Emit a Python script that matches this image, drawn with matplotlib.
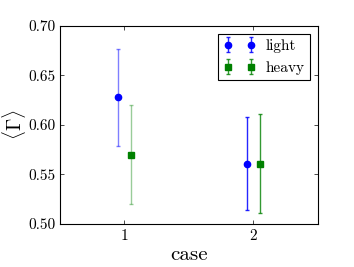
import matplotlib
matplotlib.use("Agg")
import matplotlib.pyplot as plt
from matplotlib.colors import to_rgba

plt.rcParams['font.family'] = 'cmr10'
plt.rcParams['mathtext.fontset'] = 'cm'
plt.rcParams['axes.formatter.use_mathtext'] = True

cases = [1, 2]
light_vals = [0.628, 0.561]
light_errs = [0.049, 0.047]
heavy_vals = [0.570, 0.561]
heavy_errs = [0.050, 0.050]
err_alpha = [0.5, 0.85]
heavy_err_alpha = [0.4, 0.8]

fig = plt.figure(figsize=(3.54, 2.67), dpi=100)
ax = fig.add_axes([0.169, 0.161, 0.729, 0.742])

for i, c in enumerate(cases):
    ax.errorbar(c - 0.05, light_vals[i], yerr=light_errs[i], fmt='o', color='b',
                ecolor=to_rgba('b', err_alpha[i]), markersize=4.5, capsize=1.5,
                elinewidth=1, capthick=1, mec='b',
                label='light' if i == 1 else None)
    ax.errorbar(c + 0.05, heavy_vals[i], yerr=heavy_errs[i], fmt='s', color='g',
                ecolor=to_rgba('g', heavy_err_alpha[i]), markersize=4.5, capsize=1.5,
                elinewidth=1, capthick=1, mec='g',
                label='heavy' if i == 1 else None)

ax.set_xlim(0.5, 2.5)
ax.set_ylim(0.50, 0.70)
ax.set_xticks(cases)
ax.set_yticks([0.50, 0.55, 0.60, 0.65, 0.70])
ax.set_yticklabels(['0.50', '0.55', '0.60', '0.65', '0.70'])
ax.tick_params(direction='in', top=True, right=True, labelsize=11, length=3, width=0.5, pad=3)
for s in ax.spines.values():
    s.set_linewidth(0.8)
ax.set_xlabel('case', fontsize=15, labelpad=2)
ax.set_ylabel(r'$\langle\Gamma\rangle$', fontsize=14)
ax.yaxis.set_label_coords(-0.122, 0.5)

leg = ax.legend(loc='upper right', numpoints=2, fontsize=11, fancybox=False,
                framealpha=1, edgecolor='black', handlelength=2.1, borderpad=0.35,
                labelspacing=0.55, borderaxespad=0.5, handletextpad=0.7)
leg.get_frame().set_linewidth(0.8)

fig.savefig('out.png', dpi=100)
